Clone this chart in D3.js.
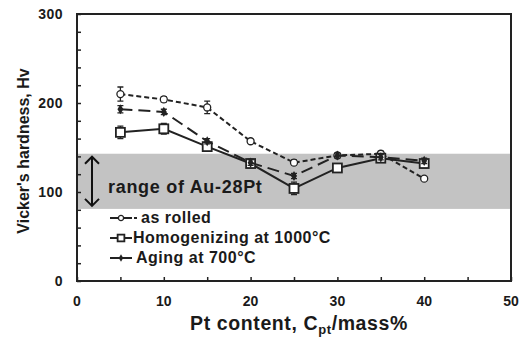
<!DOCTYPE html>
<html>
<head>
<meta charset="utf-8">
<script src="https://cdn.jsdelivr.net/npm/d3@7"></script>
<style>
  body { margin: 0; background: #fff; }
  text { font-family: "Liberation Sans", Arial, sans-serif; font-weight: bold; fill: #1a1a1a; }
</style>
</head>
<body>
<svg id="chart" width="522" height="338"></svg>
<script>
// data
const ptContent = [5, 10, 15, 20, 25, 30, 35, 40];
const asRolled = [210, 204, 195, 157, 133, 141, 143, 115];
const asRolledErr = [8, 3, 7, 2, 3, 2, 3, 2];
const homogenized = [167, 171, 151, 132, 104, 127, 138, 132];
const homogenizedErr = [7, 6, 5, 5, 7, 4, 4, 5];
const aged = [193, 190, 157, 133, 118, 141, 139, 135];
const agedErr = [4, 3, 3, 3, 3, 3, 3, 3];
const bandRange = [81, 143];
const xTicks = [0, 10, 20, 30, 40, 50];
const yTicks = [0, 100, 200, 300];

const margin = { top: 14, right: 11, bottom: 57, left: 77 };
const width = 522, height = 338;
const ink = "#222";

const svg = d3.select("#chart");

const x = d3.scaleLinear().domain([0, 50]).range([margin.left, width - margin.right]);
const y = d3.scaleLinear().domain([0, 300]).range([height - margin.bottom, margin.top]);

// shaded range
svg.append("rect")
    .attr("x", x(0))
    .attr("y", y(bandRange[1]))
    .attr("width", x(50) - x(0))
    .attr("height", y(bandRange[0]) - y(bandRange[1]))
    .attr("fill", "#c3c3c3");

// minor ticks (inward)
const xAxis = d3.axisTop(x).tickValues(d3.range(0, 51, 5)).tickSize(4).tickFormat("");
const yAxis = d3.axisRight(y).tickValues(d3.range(0, 301, 20)).tickSize(4).tickFormat("");
svg.append("g").attr("transform", `translate(0,${y(0)})`).call(xAxis)
    .call(g => g.select(".domain").remove())
    .selectAll("line").attr("stroke", ink).attr("stroke-width", 1.5);
svg.append("g").attr("transform", `translate(${x(0)},0)`).call(yAxis)
    .call(g => g.select(".domain").remove())
    .selectAll("line").attr("stroke", ink).attr("stroke-width", 1.5);

// frame
svg.append("rect")
    .attr("x", x(0)).attr("y", y(300))
    .attr("width", x(50) - x(0)).attr("height", y(0) - y(300))
    .attr("fill", "none").attr("stroke", ink).attr("stroke-width", 2);

// tick labels
svg.append("g").selectAll("text").data(xTicks).join("text")
    .attr("x", d => x(d)).attr("y", y(0) + 25)
    .attr("text-anchor", "middle").attr("font-size", 14)
    .text(d => d);
svg.append("g").selectAll("text").data(yTicks).join("text")
    .attr("x", x(0) - 14).attr("y", d => y(d) + 5)
    .attr("text-anchor", "end").attr("font-size", 14)
    .attr("letter-spacing", 0.5)
    .text(d => d);

// axis titles
const xTitle = svg.append("text")
    .attr("x", 299).attr("y", 330)
    .attr("text-anchor", "middle").attr("font-size", 19.5)
    .attr("letter-spacing", 0.6);
xTitle.append("tspan").text("Pt content, C");
xTitle.append("tspan").attr("font-size", 13).attr("dy", 4).text("pt");
xTitle.append("tspan").attr("dy", -4).text("/mass%");

svg.append("text")
    .attr("transform", "translate(29,151) rotate(-90)")
    .attr("text-anchor", "middle").attr("font-size", 16)
    .text("Vicker's hardness, Hv");

// range label with double arrow
const ax = 92;
svg.append("line")
    .attr("x1", ax).attr("x2", ax)
    .attr("y1", y(bandRange[1]) + 3).attr("y2", y(bandRange[0]) - 3)
    .attr("stroke", "#111").attr("stroke-width", 2);
svg.append("path")
    .attr("d", `M${ax - 7},${y(bandRange[1]) + 10} L${ax},${y(bandRange[1]) + 3} L${ax + 7},${y(bandRange[1]) + 10}
                M${ax - 7},${y(bandRange[0]) - 10} L${ax},${y(bandRange[0]) - 3} L${ax + 7},${y(bandRange[0]) - 10}`)
    .attr("fill", "none").attr("stroke", "#111").attr("stroke-width", 2);
svg.append("text")
    .attr("x", 108).attr("y", 193)
    .attr("font-size", 18).attr("letter-spacing", 0.7)
    .text("range of Au-28Pt");

// series
const series = [
    { name: "as rolled", values: asRolled, err: asRolledErr, dash: "5,3", marker: "circle", fill: "#fff", tx: 141 },
    { name: "Homogenizing at 1000\u00b0C", values: homogenized, err: homogenizedErr, dash: null, marker: "square", fill: "#fff", tx: 133 },
    { name: "Aging at 700\u00b0C", values: aged, err: agedErr, dash: "12,6", marker: "dot", fill: "#222", tx: 136 }
];

const line = d3.line().x(d => x(d[0])).y(d => y(d[1]));

function drawMarker(g, type, fill, k) {
    if (type === "circle") {
        g.append("circle").attr("r", 3.5 * k).attr("fill", fill).attr("stroke", ink).attr("stroke-width", 1.3);
    } else if (type === "square") {
        g.append("rect").attr("x", -4.5 * k).attr("y", -4.5 * k).attr("width", 9 * k).attr("height", 9 * k)
            .attr("fill", fill).attr("stroke", ink).attr("stroke-width", 1.8);
    } else {
        g.append("path").attr("d", d3.symbol(d3.symbolDiamond, 30 * k * k)).attr("fill", fill);
    }
}

series.forEach(s => {
    const pts = ptContent.map((c, i) => [c, s.values[i], s.err[i]]);
    const g = svg.append("g");
    // error bars
    g.selectAll(".err").data(pts).join("path")
        .attr("d", d => `M${x(d[0])},${y(d[1] - d[2])}V${y(d[1] + d[2])}
                         M${x(d[0]) - 3},${y(d[1] - d[2])}h6 M${x(d[0]) - 3},${y(d[1] + d[2])}h6`)
        .attr("stroke", ink).attr("stroke-width", 1.3).attr("fill", "none");
    g.append("path")
        .datum(pts)
        .attr("d", line)
        .attr("fill", "none").attr("stroke", ink).attr("stroke-width", 2)
        .attr("stroke-dasharray", s.dash);
    g.selectAll(".m").data(pts).join("g")
        .attr("transform", d => `translate(${x(d[0])},${y(d[1])})`)
        .each(function () { drawMarker(d3.select(this), s.marker, s.fill, 1); });
});

// legend
const legend = svg.append("g");
series.forEach((s, i) => {
    const ly = 218 + i * 20;
    const row = legend.append("g").attr("transform", `translate(0,${ly})`);
    row.append("line").attr("x1", 110).attr("x2", 132)
        .attr("stroke", ink).attr("stroke-width", 2)
        .attr("stroke-dasharray", s.marker === "circle" ? "7,0" : null);
    if (s.marker === "circle") {
        row.append("line").attr("x1", 134).attr("x2", 137)
            .attr("stroke", ink).attr("stroke-width", 2);
    }
    const m = row.append("g").attr("transform", "translate(121,0)");
    drawMarker(m, s.marker, s.fill, 0.75);
    row.append("text").attr("x", s.tx).attr("y", 5)
        .attr("font-size", 16).attr("letter-spacing", 0.5)
        .text(s.name);
});
</script>
</body>
</html>
